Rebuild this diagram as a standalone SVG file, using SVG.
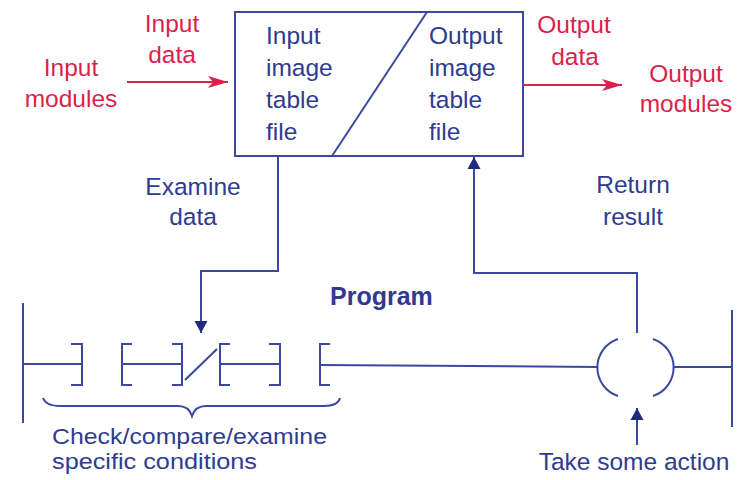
<svg xmlns="http://www.w3.org/2000/svg" width="738" height="480" viewBox="0 0 738 480">
<defs>
<style>
.t{font-family:"Liberation Sans",Arial,sans-serif;font-size:24.5px}
.sm{font-size:22px}
.red{fill:#dc1f4b}
.blue{fill:#2f3b8f}
.b{font-weight:bold;font-size:25px}
.ln{fill:none;stroke:#3b48a0;stroke-width:2}
.rl{fill:none;stroke:#dc1f4b;stroke-width:2.2}
</style>
<marker id="ab" viewBox="0 0 12 20" refX="12" refY="10" markerWidth="12" markerHeight="20" markerUnits="userSpaceOnUse" orient="auto"><path d="M0,3.5 L12,10 L0,16.5 Z" fill="#1f2a80"/></marker>
<marker id="ar" viewBox="0 0 20 14" refX="20" refY="7" markerWidth="20" markerHeight="14" markerUnits="userSpaceOnUse" orient="auto"><path d="M0,1 L20,7 L0,13 L5,7 Z" fill="#dc1f4b"/></marker>
</defs>
<rect width="738" height="480" fill="#fff"/>

<g id="image-table">
<rect x="235" y="12" width="288" height="144" class="ln"/>
<line x1="427" y1="12" x2="332" y2="156" class="ln"/>
<text class="t blue" x="266" y="44">Input</text>
<text class="t blue" x="266" y="76">image</text>
<text class="t blue" x="266" y="108">table</text>
<text class="t blue" x="266" y="140">file</text>
<text class="t blue" x="429" y="44">Output</text>
<text class="t blue" x="429" y="76">image</text>
<text class="t blue" x="429" y="108">table</text>
<text class="t blue" x="429" y="140">file</text>
</g>

<g id="input-modules">
<text class="t red" x="71" y="76" text-anchor="middle">Input</text>
<text class="t red" x="71" y="107" text-anchor="middle">modules</text>
</g>
<g id="output-modules">
<text class="t red" x="686" y="82" text-anchor="middle">Output</text>
<text class="t red" x="686" y="112" text-anchor="middle">modules</text>
</g>

<g id="ladder-rung">
<line x1="23" y1="303" x2="23" y2="423" class="ln"/>
<line x1="732" y1="310" x2="732" y2="427" class="ln"/>
<line x1="23" y1="364" x2="82" y2="364" class="ln"/>
<path d="M71,344 H82 V385 H71" class="ln"/>
<path d="M132,344 H122 V385 H132" class="ln"/>
<line x1="122" y1="364" x2="182" y2="364" class="ln"/>
<path d="M172,344 H182 V385 H172" class="ln"/>
<line x1="185" y1="380" x2="217" y2="349" class="ln"/>
<path d="M230,344 H220 V385 H230" class="ln"/>
<line x1="220" y1="364" x2="280" y2="364" class="ln"/>
<path d="M269,344 H280 V385 H269" class="ln"/>
<path d="M330,344 H320 V385 H330" class="ln"/>
<line x1="320" y1="365" x2="598" y2="367" class="ln"/>
<path d="M618,339 A30,30 0 0 0 618,396" class="ln"/>
<path d="M653,339 A30,30 0 0 1 653,396" class="ln"/>
<line x1="673" y1="367" x2="732" y2="367" class="ln"/>
<text class="t b blue" x="330" y="305">Program</text>
<path d="M43,398 Q46,406 60,406 H178 Q189,406 192,416 Q195,406 206,406 H324 Q338,406 340,398" class="ln"/>
<text class="t sm blue" x="52" y="444" textLength="275" lengthAdjust="spacingAndGlyphs">Check/compare/examine</text>
<text class="t sm blue" x="52" y="469" textLength="205" lengthAdjust="spacingAndGlyphs">specific conditions</text>
<text class="t blue" x="634" y="470" text-anchor="middle">Take some action</text>
</g>

<g id="connectors">
<line x1="127" y1="82" x2="228" y2="82" class="rl" marker-end="url(#ar)"/>
<line x1="523" y1="85" x2="622" y2="85" class="rl" marker-end="url(#ar)"/>
<text class="t red" x="172" y="32" text-anchor="middle">Input</text>
<text class="t red" x="172" y="63" text-anchor="middle">data</text>
<text class="t red" x="574" y="33" text-anchor="middle">Output</text>
<text class="t red" x="575" y="65" text-anchor="middle">data</text>
<polyline points="278,156 278,271 201,271 201,333" class="ln" marker-end="url(#ab)"/>
<text class="t blue" x="193" y="195" text-anchor="middle">Examine</text>
<text class="t blue" x="193" y="225" text-anchor="middle">data</text>
<polyline points="637,333 637,273 474,273 474,157" class="ln" marker-end="url(#ab)"/>
<text class="t blue" x="633" y="193" text-anchor="middle">Return</text>
<text class="t blue" x="633" y="225" text-anchor="middle">result</text>
<line x1="637" y1="445" x2="637" y2="408" class="ln" marker-end="url(#ab)"/>
</g>
</svg>
